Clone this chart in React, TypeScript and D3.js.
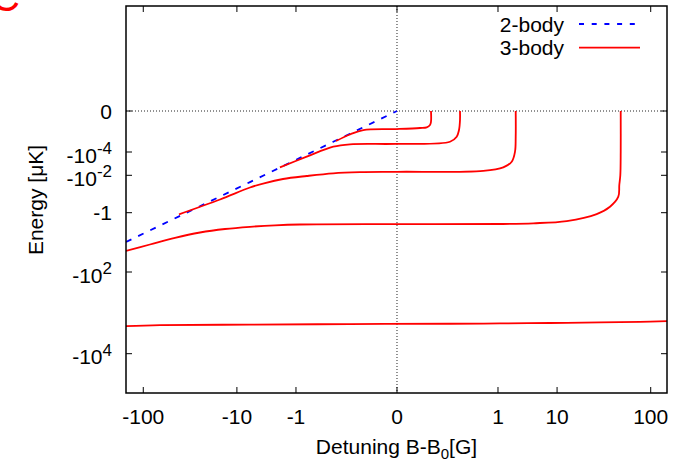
import React from "react";
import * as d3 from "d3";

// ---------- data ----------
const xTickValues = [-100, -10, -1, 0, 1, 10, 100];
const xTickLabels = ["-100", "-10", "-1", "0", "1", "10", "100"];
const yTickValues = [0, -1e-4, -1e-2, -1, -1e2, -1e4];
const yTickBase = ["0", "-10", "-10", "-1", "-10", "-10"];
const yTickExp = ["", "-4", "-2", "", "2", "4"];

// 2-body (dimer) energy
const dimerB = [-139, -87.5, -46.8, -16.5, -6.53, -2.09, -0.817, -0.1, -0.0218, -0.00414, -0.000135, 0];
const dimerE = [-12.7, -5.0, -1.43, -0.177, -0.0275, -0.00272, -3.97e-4, -5.7e-6, -2.7e-7, -9.8e-9, -1.0e-11, 0];

// 3-body (trimer) energies
const trimer0B = [-139, -71, -6.5, -0.022, 0.04, 1.1, 7.98, 32.8, 80.6, 136.5];
const trimer0E = [-2650, -2520, -2443, -2380, -2337, -2297, -2248, -2180, -2111, -2026];

const trimer1B = [-139, -87.5, -51.3, -28.2, -14.3, -6.53, -2.57, -0.817, 0, 1.1, 4.48, 13.4, 30.2, 41.7, 50.5, 51.65, 52.83, 53.3, 53.3];
const trimer1E = [-24.6, -15.3, -9.13, -5.95, -4.44, -3.68, -3.23, -3.01, -2.92, -2.88, -2.7, -2.2, -1.14, -0.543, -0.179, -0.0411, -0.01, -1e-4, 0];

const trimer2B = [-46.8, -16.5, -6.53, -3.81, -1.83, -0.571, -0.1, -0.0066, 0, 0.4555, 1.29, 1.889, 2.177, 2.242, 2.242];
const trimer2E = [-1.17, -0.248, -0.0574, -0.0312, -0.01756, -0.01114, -0.00725, -0.00604, -0.00565, -0.00478, -0.00258, -8.8e-4, -9.3e-5, -1e-6, 0];

const trimer3B = [-2.09, -0.571, -0.1, -0.0218, 0, 0.0398, 0.0722, 0.0872, 0.0945, 0.0945];
const trimer3E = [-0.00258, -3.05e-4, -2.5e-5, -1.25e-5, -1.1e-5, -5.6e-6, -9.3e-7, -4.6e-8, -2.6e-11, 0];

const trimer4B = [-0.0804, -0.0218, -0.00414, 0, 0.000612, 0.0022, 0.00372, 0.00432, 0.00432];
const trimer4E = [-4.4e-6, -3.8e-7, -4.6e-8, -2.7e-8, -1.5e-8, -9.9e-9, -2.1e-9, -1.45e-10, 0];

const legendLabels = ["2-body", "3-body"];

// ---------- layout ----------
const W = 679, H = 464;
const L = 126, R = 667, T = 6, B = 393;
const FONT = "'Liberation Sans', Arial, Helvetica, sans-serif";
const FS = 21;

// symmetric power transforms
const tx = (v: number) => Math.sign(v) * Math.pow(Math.abs(v), 0.2);
const ty = (v: number) => Math.sign(v) * Math.pow(Math.abs(v), 0.1);

const xLin = d3.scaleLinear().domain([tx(-139), tx(136.5)]).range([L, R]);
const yLin = d3
  .scaleLinear()
  .domain([1.0325, ...yTickValues.map(ty), -2.958])
  .range([T, 111, 152, 175.3, 212.7, 272, 353.7, B]);

const X = (v: number) => xLin(tx(v));
const Y = (v: number) => yLin(ty(v));

const toPts = (bs: number[], es: number[]) => bs.map((b, i) => [b, es[i]] as [number, number]);
const line = d3.line<[number, number]>().x((d) => X(d[0])).y((d) => Y(d[1]));
const smooth = d3
  .line<[number, number]>()
  .x((d) => X(d[0]))
  .y((d) => Y(d[1]))
  .curve(d3.curveCatmullRom.alpha(0.5));

const trimers = [
  toPts(trimer0B, trimer0E),
  toPts(trimer1B, trimer1E),
  toPts(trimer2B, trimer2E),
  toPts(trimer3B, trimer3E),
  toPts(trimer4B, trimer4E),
];
const dimer = toPts(dimerB, dimerE);

const RED = "#ff0000";
const BLUE = "#0000ff";
const TICK = 6;

export default function App() {
  return (
    <svg
      width={W}
      height={H}
      style={{ position: "absolute", left: 0, top: 0, background: "#fff" }}
      fontFamily={FONT}
    >
      <rect x={0} y={0} width={W} height={H} fill="#fff" />
      {/* partial red panel label */}
      <text x={-9} y={11} fontSize={40} fill={RED} fontFamily="'Liberation Sans', sans-serif">C</text>

      <defs>
        <clipPath id="plotclip">
          <rect x={L} y={T} width={R - L} height={B - T} />
        </clipPath>
      </defs>

      {/* zero lines */}
      <line x1={L} x2={R} y1={Y(0)} y2={Y(0)} stroke="#222" strokeWidth={1} strokeDasharray="1,2" />
      <line x1={X(0)} x2={X(0)} y1={T} y2={B} stroke="#222" strokeWidth={1} strokeDasharray="1,2" />

      <g clipPath="url(#plotclip)">
        <path d={line(dimer) || ""} fill="none" stroke={BLUE} strokeWidth={1.8} strokeDasharray="6,7.5" />
        {trimers.map((t, i) => (
          <path key={i} d={smooth(t) || ""} fill="none" stroke={RED} strokeWidth={1.8} strokeLinejoin="round" />
        ))}
      </g>

      {/* ticks */}
      {xTickValues.map((v, i) => (
        <g key={"xt" + i}>
          <line x1={X(v)} x2={X(v)} y1={B} y2={B - TICK} stroke="#000" strokeWidth={1} />
          <line x1={X(v)} x2={X(v)} y1={T} y2={T + TICK} stroke="#000" strokeWidth={1} />
          <text x={X(v)} y={424} fontSize={FS} textAnchor="middle" fill="#000">
            {xTickLabels[i]}
          </text>
        </g>
      ))}
      {yTickValues.map((v, i) => (
        <g key={"yt" + i}>
          <line x1={L} x2={L + TICK} y1={Y(v)} y2={Y(v)} stroke="#000" strokeWidth={1} />
          <line x1={R} x2={R - TICK} y1={Y(v)} y2={Y(v)} stroke="#000" strokeWidth={1} />
          <text
            x={112}
            y={Y(v) + (yTickExp[i] ? 10.5 : 7.5)}
            fontSize={FS}
            textAnchor="end"
            fill="#000"
          >
            {yTickBase[i]}
            {yTickExp[i] ? (
              <tspan dy={-8.5} fontSize={17}>
                {yTickExp[i]}
              </tspan>
            ) : null}
          </text>
        </g>
      ))}

      {/* frame */}
      <rect x={L} y={T} width={R - L} height={B - T} fill="none" stroke="#000" strokeWidth={1.5} />

      {/* axis labels */}
      <text x={(L + R) / 2} y={454} fontSize={FS} textAnchor="middle" fill="#000">
        Detuning B-B
        <tspan dy={5} fontSize={15}>0</tspan>
        <tspan dy={-5}>[G]</tspan>
      </text>
      <text transform="translate(42.5,200) rotate(-90)" fontSize={FS} textAnchor="middle" fill="#000">
        Energy [μK]
      </text>

      {/* legend */}
      <text x={564} y={31.5} fontSize={FS} textAnchor="end" fill="#000">{legendLabels[0]}</text>
      <line x1={579} x2={640} y1={24} y2={24} stroke={BLUE} strokeWidth={1.8} strokeDasharray="5,7.7" />
      <text x={564} y={55} fontSize={FS} textAnchor="end" fill="#000">{legendLabels[1]}</text>
      <line x1={579} x2={640} y1={47.7} y2={47.7} stroke={RED} strokeWidth={1.8} />
    </svg>
  );
}
